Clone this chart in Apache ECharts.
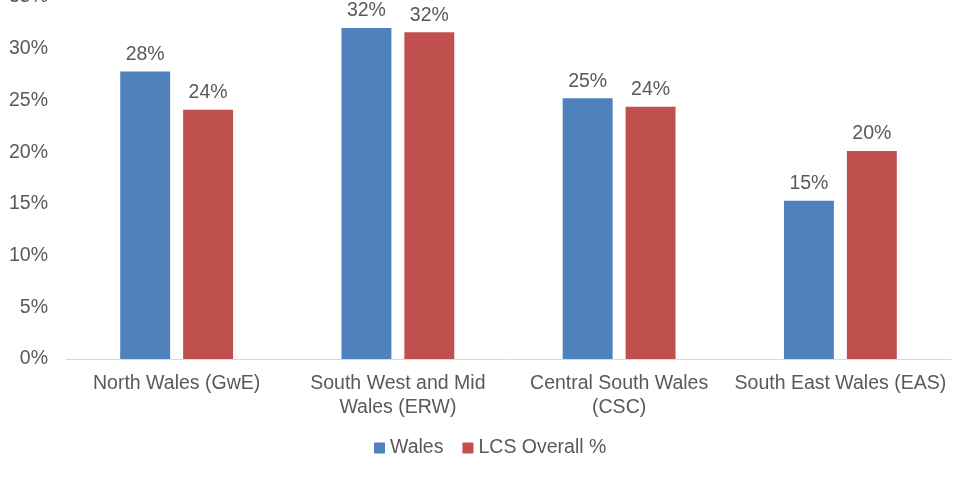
<!DOCTYPE html>
<html lang="en">
<head>
    <meta charset="UTF-8">
    <title>Wales vs LCS Overall</title>
    <script src="https://cdn.jsdelivr.net/npm/echarts@6/dist/echarts.min.js"></script>
    <style>
        html,body{margin:0;padding:0;background:#fff}
        #main{width:961px;height:480px}
    </style>
</head>
<body>
<div id="main"></div>
<script>
    // data
    var regions = ['North Wales (GwE)', 'South West and Mid\nWales (ERW)', 'Central South Wales\n(CSC)', 'South East Wales (EAS)'];
    var wales = [27.8, 32.0, 25.2, 15.3];
    var lcsOverall = [24.1, 31.6, 24.4, 20.1];
    var seriesNames = ['Wales', 'LCS Overall %'];

    var txt = '#595959';
    var font = 'Liberation Sans, Arial, sans-serif';
    var fs = 19.5;

    var myChart = echarts.init(document.getElementById('main'));
    myChart.setOption({
        animation: false,
        textStyle: {fontFamily: font},
        grid: {left: 66, right: 10, top: -3, bottom: 121, containLabel: false, outerBoundsMode: 'none'},
        legend: {
            data: seriesNames,
            left: 369, top: 433,
            itemWidth: 11, itemHeight: 11, itemGap: 19,
            icon: 'rect',
            textStyle: {color: txt, fontSize: fs, fontFamily: font}
        },
        xAxis: {
            type: 'category',
            data: regions,
            axisLine: {lineStyle: {color: '#D9D9D9', width: 1}},
            axisTick: {show: false},
            axisLabel: {color: txt, fontSize: fs, margin: 13, lineHeight: 24, interval: 0, fontFamily: font}
        },
        yAxis: {
            type: 'value',
            min: 0, max: 35, interval: 5,
            splitLine: {show: false},
            axisLine: {show: false},
            axisTick: {show: false},
            axisLabel: {color: txt, fontSize: fs, margin: 18, fontFamily: font,
                showMaxLabel: true, hideOverlap: false,
                formatter: function (v) { return v + '%'; }}
        },
        series: [
            {
                name: seriesNames[0], type: 'bar', data: wales,
                barGap: '26%', barCategoryGap: '49%',
                itemStyle: {color: '#4F81BD'},
                label: {show: true, position: 'top', distance: 7, color: txt, fontSize: fs, fontFamily: font,
                    formatter: function (p) { return Math.round(p.value) + '%'; }}
            },
            {
                name: seriesNames[1], type: 'bar', data: lcsOverall,
                itemStyle: {color: '#C0504D'},
                label: {show: true, position: 'top', distance: 7, color: txt, fontSize: fs, fontFamily: font,
                    formatter: function (p) { return Math.round(p.value) + '%'; }}
            }
        ]
    });
</script>
</body>
</html>
